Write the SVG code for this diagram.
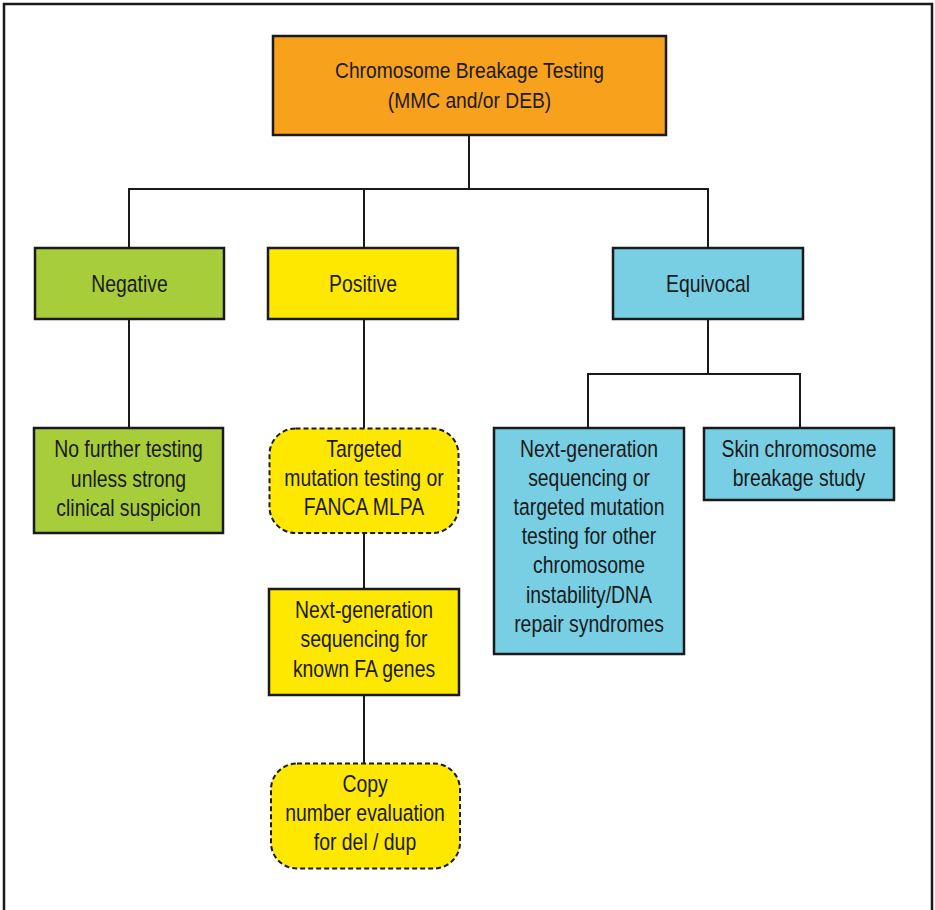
<svg xmlns="http://www.w3.org/2000/svg" width="935" height="910" viewBox="0 0 935 910">
<style>
.box{stroke:#1a1a1a;stroke-width:2.5}
.dash{stroke:#1a1a1a;stroke-width:2;stroke-dasharray:5 3}
.orange{fill:#F8A11D}
.green{fill:#A7CE3A}
.yellow{fill:#FFE800}
.blue{fill:#78CFE3}
text{font-family:"Liberation Sans",Arial,sans-serif;font-size:23.5px;fill:#1a1a1a;text-anchor:middle}
.conn{stroke:#1a1a1a;stroke-width:2;fill:none}
</style>
<rect x="4" y="4" width="928" height="930" fill="#ffffff" stroke="#1a1a1a" stroke-width="2.5"/>
<g id="connectors">
<path class="conn" d="M469 135V189M129 248V189H708V248M364 189V248"/>
<path class="conn" d="M129 319V428"/>
<path class="conn" d="M364 319V428M364 533V589M364 695V763"/>
<path class="conn" d="M708 319V374M588 428V374H800V428"/>
</g>
<g id="n-top">
<rect class="box orange" x="273" y="36" width="393" height="99"/>
<g transform="translate(469.5 0) scale(0.855 1)">
<text x="0" y="78" style="font-size:22.5px">Chromosome Breakage Testing</text>
<text x="0" y="108" style="font-size:22.5px">(MMC and/or DEB)</text>
</g>
</g>
<g id="n-negative">
<rect class="box green" x="35" y="248" width="189" height="71"/>
<g transform="translate(129.5 0) scale(0.825 1)">
<text x="0" y="292">Negative</text>
</g>
</g>
<g id="n-positive">
<rect class="box yellow" x="268" y="248" width="190" height="71"/>
<g transform="translate(363 0) scale(0.825 1)">
<text x="0" y="292">Positive</text>
</g>
</g>
<g id="n-equivocal">
<rect class="box blue" x="613" y="248" width="190" height="71"/>
<g transform="translate(708 0) scale(0.825 1)">
<text x="0" y="292">Equivocal</text>
</g>
</g>
<g id="n-nofurther">
<rect class="box green" x="34" y="428" width="189" height="105"/>
<g transform="translate(128.5 0) scale(0.825 1)">
<text x="0" y="457.5">No further testing</text>
<text x="0" y="487">unless strong</text>
<text x="0" y="516">clinical suspicion</text>
</g>
</g>
<g id="n-targeted">
<rect class="dash yellow" x="269.5" y="428.5" width="189" height="104.5" rx="26" ry="26"/>
<g transform="translate(364 0) scale(0.825 1)">
<text x="0" y="457">Targeted</text>
<text x="0" y="486">mutation testing or</text>
<text x="0" y="515.5">FANCA MLPA</text>
</g>
</g>
<g id="n-ngs-fa">
<rect class="box yellow" x="269" y="589" width="190" height="106"/>
<g transform="translate(364 0) scale(0.825 1)">
<text x="0" y="618.5">Next-generation</text>
<text x="0" y="647.5">sequencing for</text>
<text x="0" y="677">known FA genes</text>
</g>
</g>
<g id="n-copy">
<rect class="dash yellow" x="271" y="763.5" width="189" height="105" rx="26" ry="26"/>
<g transform="translate(365 0) scale(0.825 1)">
<text x="0" y="792.5">Copy</text>
<text x="0" y="821.5">number evaluation</text>
<text x="0" y="850.5">for del / dup</text>
</g>
</g>
<g id="n-ngs-other">
<rect class="box blue" x="494" y="428" width="190" height="226"/>
<g transform="translate(589 0) scale(0.825 1)">
<text x="0" y="457">Next-generation</text>
<text x="0" y="486">sequencing or</text>
<text x="0" y="515.5">targeted mutation</text>
<text x="0" y="544.5">testing for other</text>
<text x="0" y="573.5">chromosome</text>
<text x="0" y="603">instability/DNA</text>
<text x="0" y="632.5">repair syndromes</text>
</g>
</g>
<g id="n-skin">
<rect class="box blue" x="704" y="428" width="190" height="72"/>
<g transform="translate(799 0) scale(0.825 1)">
<text x="0" y="457">Skin chromosome</text>
<text x="0" y="486">breakage study</text>
</g>
</g>
</svg>
